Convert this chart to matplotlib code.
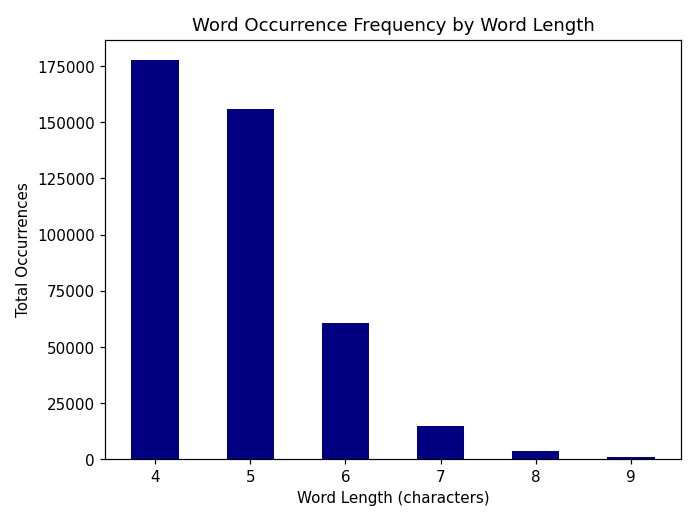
import matplotlib
matplotlib.use("Agg")
import matplotlib.pyplot as plt

word_lengths = ["4", "5", "6", "7", "8", "9"]
occurrences = [178000, 156100, 60600, 14600, 3600, 800]

fig, ax = plt.subplots(figsize=(6.4, 4.8), dpi=108.9)
fig.subplots_adjust(left=105.3/697, right=680.7/697, top=1-40.3/523, bottom=1-460/523)
x = range(len(word_lengths))
ax.bar(x, occurrences, width=0.5, color="navy")
ax.set_xticks(list(x))
ax.set_xticklabels(word_lengths, rotation=0)
ax.set_title("Word Occurrence Frequency by Word Length")
ax.set_xlabel("Word Length (characters)")
ax.set_ylabel("Total Occurrences")
fig.savefig("out.png", dpi=108.9)
